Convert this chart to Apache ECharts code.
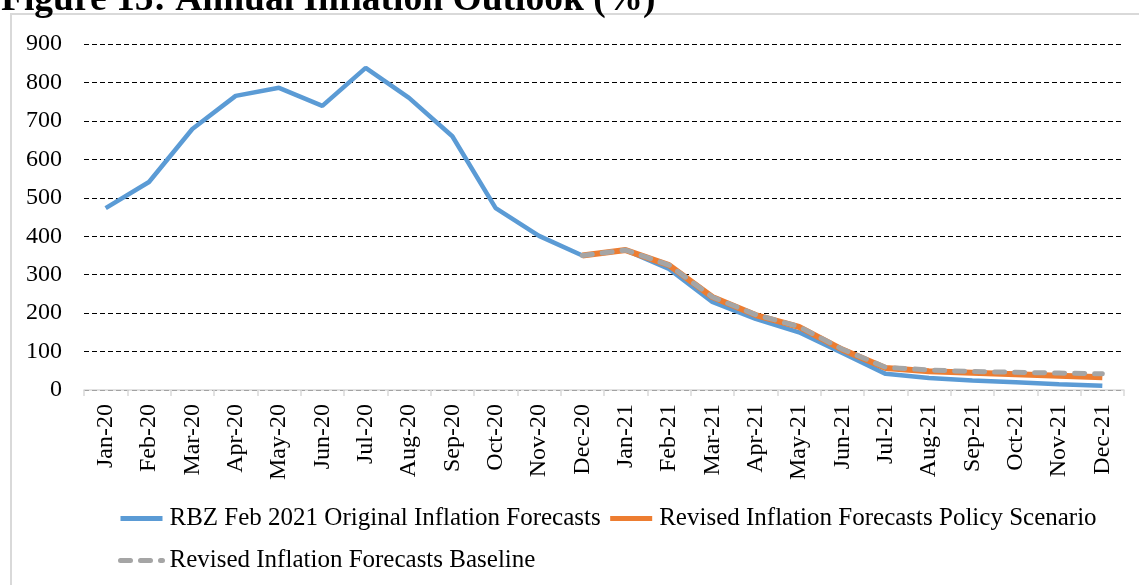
<!DOCTYPE html>
<html>
<head>
    <meta charset="UTF-8">
    <title>Annual Inflation Outlook</title>
    <script type="text/javascript" src="https://cdn.jsdelivr.net/npm/echarts@6/dist/echarts.min.js"></script>
</head>
<body style="margin: 0;background: #ffffff;">
<div id="chart" style="width:1139px;height:585px;"></div>
<script>
    var months = ["Jan-20", "Feb-20", "Mar-20", "Apr-20", "May-20", "Jun-20", "Jul-20", "Aug-20",
        "Sep-20", "Oct-20", "Nov-20", "Dec-20", "Jan-21", "Feb-21", "Mar-21", "Apr-21",
        "May-21", "Jun-21", "Jul-21", "Aug-21", "Sep-21", "Oct-21", "Nov-21", "Dec-21"];
    var originalForecast = [473, 541, 679, 765, 786, 739, 838, 760, 660, 473, 401, 350,
        364, 315, 229, 185, 150, 96, 42, 31, 25, 20, 15, 11];
    var policyScenario = [null, null, null, null, null, null, null, null, null, null, null, 350,
        364, 325, 242, 195, 164, 105, 57, 49, 45, 41, 37, 33];
    var baseline = [null, null, null, null, null, null, null, null, null, null, null, 350,
        364, 325, 242, 196, 165, 106, 59, 52, 48, 46, 44, 42];
    var yTicks = [0, 900, 100];

    var serif = "Liberation Serif";
    var chart = echarts.init(document.getElementById("chart"));

    // legend icons: line only, no marker
    var legendCommon = {
        left: 118,
        padding: 0,
        itemWidth: 42,
        itemHeight: 14,
        itemGap: 7,
        itemStyle: {opacity: 0},
        lineStyle: {width: 5},
        textStyle: {fontFamily: serif, fontSize: 25, color: "#000", padding: [0, 0, 0, 2]}
    };

    var option = {
        animation: false,
        graphic: [
            {
                type: "rect",
                shape: {x: 11, y: 14, width: 1200, height: 640},
                style: {fill: "none", stroke: "#d9d9d9", lineWidth: 2},
                silent: true
            },
            {
                type: "text",
                left: 1,
                top: -19,
                style: {
                    text: "Figure 15: Annual Inflation Outlook (%)",
                    font: "bold 37.5px Liberation Serif",
                    fill: "#000"
                }
            }
        ],
        grid: {left: 84, right: 15, top: 44, bottom: 195},
        legend: [
            Object.assign({
                data: ["RBZ Feb 2021 Original Inflation Forecasts", "Revised Inflation Forecasts Policy Scenario"],
                top: 506
            }, legendCommon),
            Object.assign({
                data: ["Revised Inflation Forecasts Baseline"],
                top: 548
            }, legendCommon)
        ],
        xAxis: {
            type: "category",
            data: months,
            boundaryGap: true,
            axisLine: {lineStyle: {color: "#d9d9d9", width: 1.5}},
            axisTick: {show: true, length: 6, lineStyle: {color: "#d9d9d9", width: 1.5}},
            axisLabel: {
                rotate: 90,
                interval: 0,
                margin: 14,
                fontFamily: serif,
                fontSize: 24,
                color: "#000"
            }
        },
        yAxis: {
            type: "value",
            min: yTicks[0],
            max: yTicks[1],
            interval: yTicks[2],
            axisLine: {show: false},
            axisTick: {show: false},
            axisLabel: {margin: 22, fontFamily: serif, fontSize: 24, color: "#000"},
            splitLine: {lineStyle: {color: "#000", width: 1, type: [5, 3]}}
        },
        series: [
            {
                name: "RBZ Feb 2021 Original Inflation Forecasts",
                type: "line",
                data: originalForecast,
                symbol: "none",
                color: "#5b9bd5",
                lineStyle: {width: 4.5, color: "#5b9bd5"},
                z: 2
            },
            {
                name: "Revised Inflation Forecasts Policy Scenario",
                type: "line",
                data: policyScenario,
                symbol: "none",
                color: "#ed7d31",
                lineStyle: {width: 6, color: "#ed7d31"},
                z: 3
            },
            {
                name: "Revised Inflation Forecasts Baseline",
                type: "line",
                data: baseline,
                symbol: "none",
                color: "#a5a5a5",
                lineStyle: {width: 5, color: "#a5a5a5", type: [10, 10], cap: "round"},
                z: 4
            }
        ]
    };
    chart.setOption(option);
</script>
</body>
</html>
